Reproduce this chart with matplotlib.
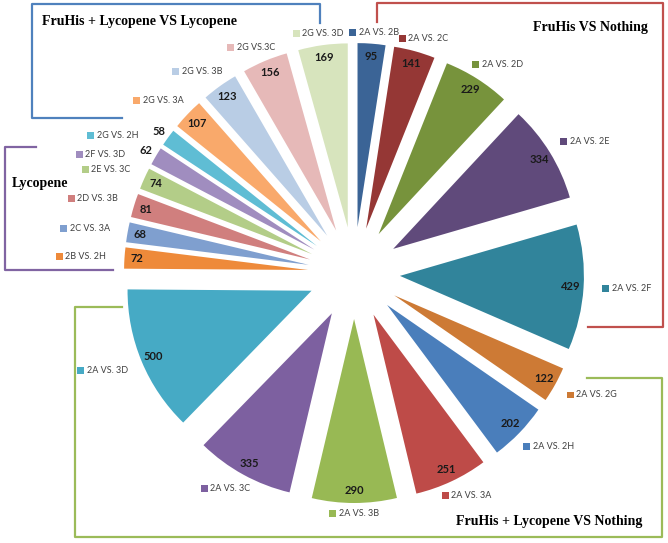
import numpy as np
import matplotlib.pyplot as plt
from matplotlib.offsetbox import AnnotationBbox, HPacker, TextArea, DrawingArea
from matplotlib.patches import Rectangle

# comparaciones y número de genes
etiquetas = ['2A VS. 2B', '2A VS. 2C', '2A VS. 2D', '2A VS. 2E', '2A VS. 2F',
             '2A VS. 2G', '2A VS. 2H', '2A VS. 3A', '2A VS. 3B', '2A VS. 3C',
             '2A VS. 3D', '2B VS. 2H', '2C VS. 3A', '2D VS. 3B', '2E VS. 3C',
             '2F VS. 3D', '2G VS. 2H', '2G VS. 3A', '2G VS. 3B', '2G VS.3C',
             '2G VS. 3D']
valores = [95, 141, 229, 334, 429, 122, 202, 251, 290, 335, 500,
           72, 68, 81, 74, 62, 58, 107, 123, 156, 169]
colores = ['#3B6496', '#953735', '#77933C', '#604A7B', '#31849B',
           '#CD7A35', '#4A7EBB', '#BE4B48', '#98B954', '#7D60A0',
           '#46AAC5', '#EE8A3A', '#7F9FCF', '#D07F7E', '#B3CD88',
           '#A08DBF', '#5FBDD4', '#F9A96B', '#B9CDE5', '#E6B9B8',
           '#D7E4BD']

H = 543
R = 184
total = sum(valores)

fig = plt.figure(figsize=(6.68, 5.43), dpi=100)
ax = fig.add_axes([0, 0, 1, 1])

wedges, _, numeros = ax.pie(valores, colors=colores, startangle=90, counterclock=False,
                            radius=R, center=(354, H - 273), explode=[46] * len(valores),
                            autopct=lambda p: f'{p * total / 100:.0f}', pctdistance=0.93,
                            wedgeprops=dict(linewidth=0),
                            textprops=dict(family='Lato', fontsize=8, fontweight='bold',
                                           color='#1a1a1a'))
ax.set_xlim(0, 668)
ax.set_ylim(0, H)
ax.set_aspect('equal')
ax.axis('off')

for w, t, v, lab, col in zip(wedges, numeros, valores, etiquetas, colores):
    th = np.radians((w.theta1 + w.theta2) / 2)
    cx, cy = w.center
    c, s = np.cos(th), np.sin(th)
    # etiqueta con cuadrito de color
    da = DrawingArea(5, 5, 0, 0)
    da.add_artist(Rectangle((0, 0), 5, 5, facecolor=col, edgecolor='none'))
    ta = TextArea(lab, textprops=dict(family='Lato', fontsize=6.5, color='#404040'))
    caja = HPacker(children=[da, ta], pad=0, sep=2, align='center')
    if v < 65:
        # las porciones delgadas llevan el número por fuera y la etiqueta a su lado
        pos = (cx + 1.06 * R * c, cy + 1.06 * R * s)
        t.set_position(pos)
        ab = AnnotationBbox(caja, pos, xybox=(-15, -3), boxcoords='offset points',
                            box_alignment=(1, 0.5), frameon=False, pad=0)
    else:
        d = (1.03 + 0.07 * abs(c)) * R
        ab = AnnotationBbox(caja, (cx + d * c, cy + d * s),
                            box_alignment=((1 - c) / 2, (1 - s) / 2), frameon=False, pad=0)
    ax.add_artist(ab)

# corchetes de los grupos
def linea(xs, ys, color):
    ax.plot(xs, [H - y for y in ys], color=color, lw=1.6, solid_capstyle='projecting')

linea([122, 32, 32, 320, 320], [118, 118, 4, 4, 23], '#4F81BD')
linea([36, 5, 5, 113], [147, 147, 270, 270], '#8064A2')
linea([377, 377, 663, 663, 588], [22, 3, 3, 327, 327], '#C0504D')
linea([122, 75, 75, 662, 662, 587], [307, 307, 537, 537, 378, 378], '#9BBB59')

titulo = dict(family='Liberation Serif', fontsize=10, fontweight='bold', color='black')
ax.text(42, H - 22, 'FruHis + Lycopene VS Lycopene', ha='left', va='center', **titulo)
ax.text(12, H - 184, 'Lycopene', ha='left', va='center', **titulo)
ax.text(648, H - 28, 'FruHis VS Nothing', ha='right', va='center', **titulo)
ax.text(642, H - 522, 'FruHis + Lycopene VS Nothing', ha='right', va='center', **titulo)

fig.savefig('out.png', dpi=100)
